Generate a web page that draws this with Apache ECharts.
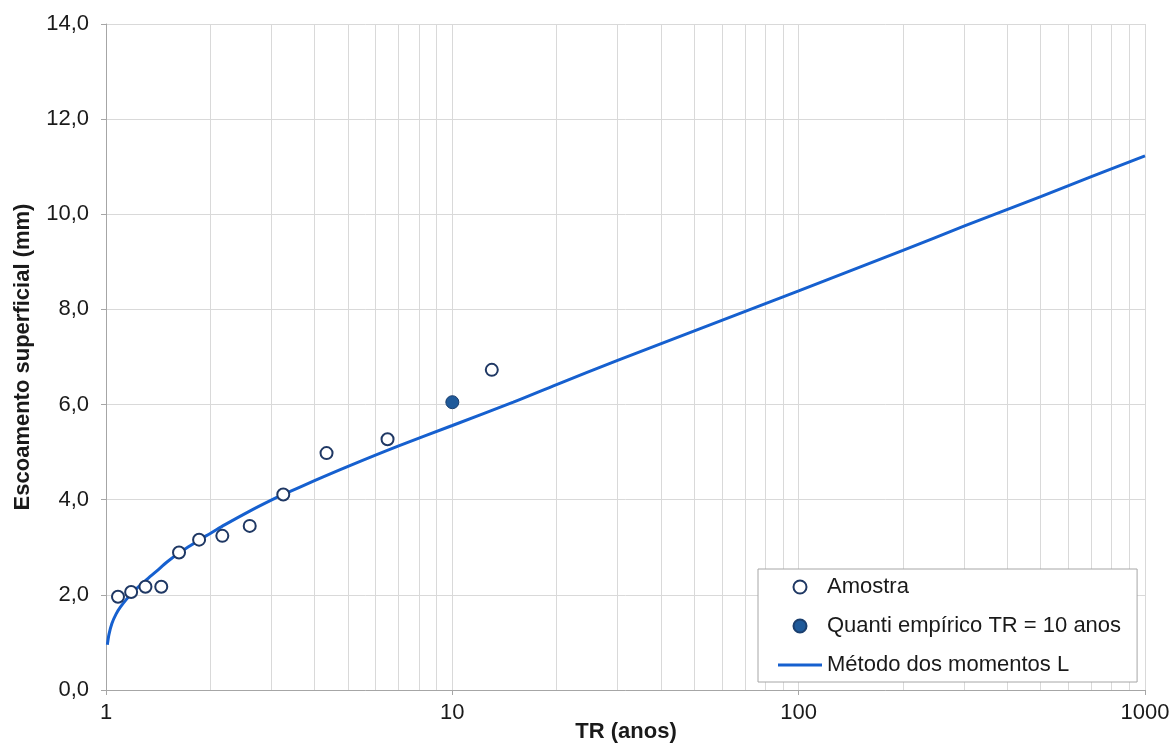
<!DOCTYPE html>
<html>
<head>
<meta charset="utf-8">
<script src="https://cdn.jsdelivr.net/npm/echarts@6/dist/echarts.min.js"></script>
<style>
html,body{margin:0;padding:0;background:#fff;}
#c{width:1171px;height:744px;}
</style>
</head>
<body>
<div id="c"></div>
<script>
// Sample (Amostra): return period TR (anos) and runoff (mm)
const sampleTR = [1.083, 1.182, 1.3, 1.444, 1.625, 1.857, 2.167, 2.6, 3.25, 4.333, 6.5, 13];
const sampleValues = [1.96, 2.06, 2.17, 2.17, 2.89, 3.16, 3.24, 3.45, 4.11, 4.98, 5.27, 6.73];

// Empirical quantile TR = 10 anos
const quantTR = [10];
const quantValues = [6.05];

// Fitted curve (Método dos momentos L)
const curveTR = [1.009, 1.02, 1.04, 1.07, 1.1, 1.15, 1.2, 1.3, 1.4, 1.5, 1.625, 1.75, 1.87, 2, 2.2, 2.6, 3, 3.25, 4, 5, 7, 10, 15, 20, 30, 50, 100, 200, 300, 500, 700, 1000];
const curveValues = [0.95, 1.17, 1.40, 1.60, 1.74, 1.92, 2.07, 2.30, 2.50, 2.69, 2.88, 3.03, 3.17, 3.29, 3.47, 3.76, 3.99, 4.11, 4.40, 4.70, 5.13, 5.56, 6.05, 6.42, 6.93, 7.55, 8.39, 9.24, 9.75, 10.37, 10.79, 11.23];

// Minor gridline positions on the log axis
const minorTicks = [2,3,4,5,6,7,8,9,20,30,40,50,60,70,80,90,200,300,400,500,600,700,800,900];

const legendNames = ['Amostra', 'Quanti empírico TR = 10 anos', 'Método dos momentos L'];
const xTitle = 'TR (anos)';
const yTitle = 'Escoamento superficial (mm)';

const FONT = 'Liberation Sans, Arial, sans-serif';
const FS = 22;
const GRID = '#d9d9d9';
const AXIS = '#a6a6a6';
const TXT = '#1a1a1a';

const chart = echarts.init(document.getElementById('c'), null, {renderer: 'canvas'});
chart.setOption({
  animation: false,
  backgroundColor: '#fff',
  textStyle: {fontFamily: FONT},
  grid: {left: 106, right: 26, top: 24, bottom: 54, containLabel: false, outerBoundsMode: 'none'},
  graphic: [{
    type: 'text', x: 626, y: 721, z: 10,
    style: {text: xTitle, fontFamily: FONT, fontSize: FS, fontWeight: 'bold', fill: TXT,
      align: 'center', verticalAlign: 'top'}
  }],
  legend: {
    orient: 'vertical',
    left: 758, top: 569, z: 10,
    padding: [7, 16, 6, 20],
    itemWidth: 44, itemHeight: 13, itemGap: 17,
    backgroundColor: '#fff',
    borderColor: '#a6a6a6', borderWidth: 1,
    textStyle: {fontFamily: FONT, fontSize: FS, color: TXT},
    data: [
      {name: legendNames[0], icon: 'emptyCircle'},
      {name: legendNames[1], icon: 'circle'},
      {name: legendNames[2], icon: 'path://M0,0H44V3H0Z'}
    ]
  },
  xAxis: {
    type: 'log', logBase: 10, min: 1, max: 1000,
    axisLine: {show: true, lineStyle: {color: AXIS, width: 1}},
    axisTick: {show: true, length: 5, lineStyle: {color: AXIS}},
    axisLabel: {fontFamily: FONT, fontSize: FS, color: TXT, margin: 12,
      formatter: v => String(Math.round(v))},
    splitLine: {show: true, lineStyle: {color: GRID, width: 1}}
  },
  yAxis: {
    type: 'value', min: 0, max: 14, interval: 2,
    name: yTitle, nameLocation: 'middle', nameGap: 72, nameRotate: 90,
    nameTextStyle: {fontFamily: FONT, fontSize: FS, fontWeight: 'bold', color: TXT},
    axisLine: {show: true, lineStyle: {color: AXIS, width: 1}},
    axisTick: {show: true, length: 5, lineStyle: {color: AXIS}},
    axisLabel: {fontFamily: FONT, fontSize: FS, color: TXT, margin: 17,
      formatter: v => v.toFixed(1).replace('.', ',')},
    splitLine: {show: true, lineStyle: {color: GRID, width: 1}}
  },
  series: [
    {
      name: '_minor', type: 'line', data: [], z: 1, silent: true,
      markLine: {
        silent: true, symbol: 'none', animation: false, z: 1,
        label: {show: false},
        lineStyle: {color: GRID, width: 1, type: 'solid'},
        emphasis: {disabled: true},
        data: minorTicks.map(v => ({xAxis: v}))
      }
    },
    {
      name: legendNames[2], type: 'line', smooth: 0.3, symbol: 'none', z: 3,
      lineStyle: {color: '#1660cf', width: 3},
      itemStyle: {color: '#1660cf'},
      data: curveTR.map((t, i) => [t, curveValues[i]])
    },
    {
      name: legendNames[0], type: 'scatter', symbol: 'emptyCircle', symbolSize: 12, z: 4,
      itemStyle: {color: '#1f3864', borderColor: '#1f3864', borderWidth: 1.5, opacity: 1},
      data: sampleTR.map((t, i) => [t, sampleValues[i]])
    },
    {
      name: legendNames[1], type: 'scatter', symbol: 'circle', symbolSize: 13, z: 5,
      itemStyle: {color: '#1f5a9a', borderColor: '#1b3f6e', borderWidth: 1, opacity: 1},
      data: quantTR.map((t, i) => [t, quantValues[i]])
    }
  ]
});
</script>
</body>
</html>
